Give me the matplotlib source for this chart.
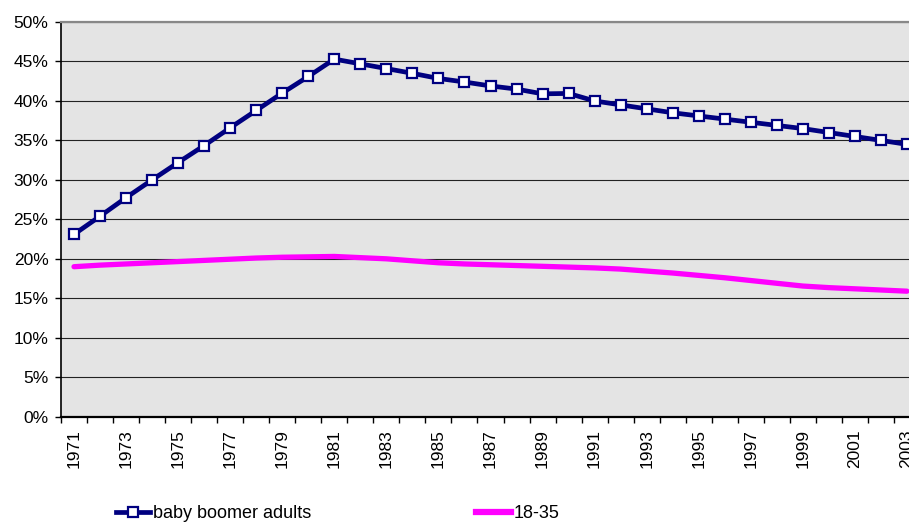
import matplotlib
matplotlib.use("Agg")
import matplotlib.pyplot as plt
from matplotlib.lines import Line2D
from matplotlib.ticker import FixedLocator, FuncFormatter

years = list(range(1971, 2004))
baby_boomer_adults = [23.1, 25.4, 27.75, 30.0, 32.2, 34.35, 36.6, 38.8, 41.0, 43.1,
                      45.3, 44.7, 44.1, 43.5, 42.85, 42.4, 41.9, 41.5, 40.9, 40.95,
                      40.0, 39.5, 39.0, 38.5, 38.1, 37.7, 37.3, 36.9, 36.5, 36.0,
                      35.5, 35.0, 34.5]
age_18_35 = [19.0, 19.2, 19.35, 19.5, 19.65, 19.8, 19.95, 20.1, 20.2, 20.25,
             20.3, 20.15, 20.0, 19.75, 19.5, 19.35, 19.25, 19.15, 19.05, 18.95,
             18.85, 18.7, 18.45, 18.2, 17.9, 17.6, 17.25, 16.9, 16.55, 16.35,
             16.2, 16.05, 15.9]
y_ticks = [0, 5, 10, 15, 20, 25, 30, 35, 40, 45, 50]
series_names = ["baby boomer adults", "18-35"]

plt.rcParams['font.family'] = ['Liberation Sans', 'DejaVu Sans']

fig = plt.figure(figsize=(9.09, 5.29), dpi=100)
ax = fig.add_axes([61/909, 1-416.7/529, 859/909, (416.7-22)/529])
ax.set_facecolor('#e4e4e4')

x = list(range(len(years)))
ax.plot(x, age_18_35, color='#ff00ff', lw=3.8, solid_capstyle='round', zorder=3)
ax.plot(x, baby_boomer_adults, color='#000080', lw=3.4, marker='s', markersize=6.5,
        markerfacecolor='white', markeredgecolor='#000080', markeredgewidth=1.6, zorder=4)

ax.set_xlim(-0.5, len(years) - 0.5)
ax.set_ylim(0, 50)
ax.set_yticks(y_ticks)
ax.yaxis.set_major_formatter(FuncFormatter(lambda v, p: f"{int(v)}%"))
ax.grid(axis='y', color='#222222', lw=0.8)
ax.set_axisbelow(True)

ax.set_xticks(x[::2])
ax.set_xticklabels([str(y) for y in years[::2]], rotation=90)
ax.xaxis.set_minor_locator(FixedLocator([i - 0.5 for i in range(len(years) + 1)]))
ax.tick_params(axis='x', which='major', length=0, pad=9, labelsize=12.5)
ax.tick_params(axis='x', which='minor', length=4, width=1, color='black', direction='out')
ax.tick_params(axis='y', length=4, width=1, pad=5, labelsize=12.5)

ax.spines['top'].set_color('#888888')
ax.spines['top'].set_linewidth(1.6)
ax.spines['right'].set_visible(False)
ax.spines['left'].set_color('black')
ax.spines['left'].set_linewidth(1.2)
ax.spines['bottom'].set_color('black')
ax.spines['bottom'].set_linewidth(1.6)

leg_font = {'family': ['Liberation Sans'], 'size': 13}
h1 = Line2D([], [], color='#000080', lw=3.4, marker='s', markersize=6.5,
            markerfacecolor='white', markeredgecolor='#000080', markeredgewidth=1.6)
h2 = Line2D([], [], color='#ff00ff', lw=4.5)
l1 = fig.legend([h1], [series_names[0]], loc='center left',
                bbox_to_anchor=(116/909, 1-514/529), frameon=False, prop=leg_font,
                handlelength=1.9, handletextpad=0.15, borderpad=0, borderaxespad=0)
l2 = fig.legend([h2], [series_names[1]], loc='center left',
                bbox_to_anchor=(476/909, 1-514/529), frameon=False, prop=leg_font,
                handlelength=1.95, handletextpad=0.12, borderpad=0, borderaxespad=0)

fig.savefig('out.png', dpi=100)
